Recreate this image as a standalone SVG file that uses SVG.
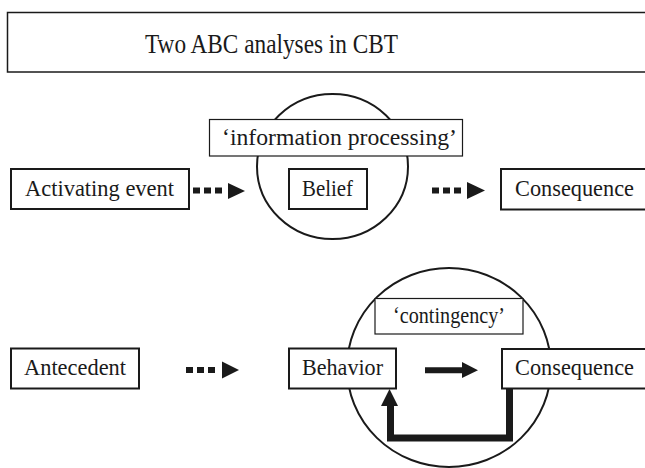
<svg xmlns="http://www.w3.org/2000/svg" width="645" height="468" viewBox="0 0 645 468">
<style>
text{font-family:'Liberation Serif','Times New Roman',serif;font-size:24px;fill:#1a1a1a}
.box{fill:#fff;stroke:#1a1a1a;stroke-width:2}
.thin{fill:#fff;stroke:#1a1a1a;stroke-width:1.2}
.circ{fill:none;stroke:#1a1a1a;stroke-width:2}
.dot{stroke:#1a1a1a;stroke-width:6;stroke-dasharray:7 4;fill:none}
.head{fill:#1a1a1a}
</style>
<rect width="645" height="468" fill="#fff"/>
<g id="title">
<rect x="7.5" y="12.5" width="650" height="59.5" fill="#fff" stroke="#1a1a1a" stroke-width="1.5"/>
<text x="145" y="53" style="font-size:27px" textLength="253" lengthAdjust="spacingAndGlyphs">Two ABC analyses in CBT</text>
</g>
<g id="circle1"><ellipse class="circ" cx="332.5" cy="166.5" rx="75.5" ry="72.5"/></g>
<g id="circle2"><ellipse class="circ" cx="449" cy="367.5" rx="102" ry="99.5"/></g>
<g id="connectors">
<line class="dot" x1="193" y1="190.5" x2="222" y2="190.5"/>
<polygon class="head" points="228,183 245,191 228,199"/>
<line class="dot" x1="432" y1="190.5" x2="462" y2="190.5"/>
<polygon class="head" points="467,182 485,190.5 467,199"/>
<line class="dot" x1="186" y1="370" x2="217" y2="370"/>
<polygon class="head" points="222,361.5 239,370 222,378.5"/>
<line x1="425" y1="370.3" x2="463" y2="370.3" stroke="#1a1a1a" stroke-width="6"/>
<polygon class="head" points="462,362 478,370.3 462,378"/>
<path d="M509.5 388 V438 H390.5 V405" fill="none" stroke="#1a1a1a" stroke-width="7" stroke-linejoin="miter"/>
<polygon class="head" points="381,406 398,406 389.5,389"/>
</g>
<g id="activating">
<rect class="box" x="11" y="169" width="178" height="40"/>
<text x="25" y="196" textLength="149" lengthAdjust="spacingAndGlyphs">Activating event</text>
</g>
<g id="info">
<rect class="thin" x="209.5" y="119.5" width="253" height="36.5"/>
<text x="222" y="145" textLength="235" lengthAdjust="spacingAndGlyphs">‘information processing’</text>
</g>
<g id="belief">
<rect class="box" x="289" y="169" width="78" height="40"/>
<text x="302" y="196" textLength="51" lengthAdjust="spacingAndGlyphs">Belief</text>
</g>
<g id="consequence1">
<rect class="box" x="501" y="169" width="160" height="40.5"/>
<text x="515" y="196" textLength="119" lengthAdjust="spacingAndGlyphs">Consequence</text>
</g>
<g id="antecedent">
<rect class="box" x="11" y="348.5" width="128" height="40"/>
<text x="24" y="375" textLength="102" lengthAdjust="spacingAndGlyphs">Antecedent</text>
</g>
<g id="contingency">
<rect class="thin" x="375" y="298.5" width="148" height="35.5"/>
<text x="393" y="323" textLength="112" lengthAdjust="spacingAndGlyphs">‘contingency’</text>
</g>
<g id="behavior">
<rect class="box" x="289" y="348.5" width="107" height="40"/>
<text x="302" y="375" textLength="81" lengthAdjust="spacingAndGlyphs">Behavior</text>
</g>
<g id="consequence2">
<rect class="box" x="502" y="349" width="160" height="39.5"/>
<text x="515" y="375" textLength="119" lengthAdjust="spacingAndGlyphs">Consequence</text>
</g>
</svg>
